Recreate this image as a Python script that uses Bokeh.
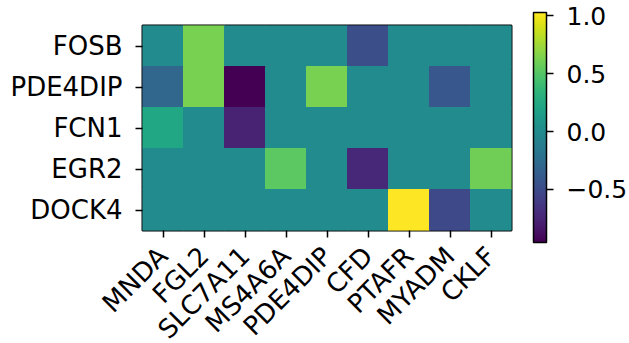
import numpy as np
from bokeh.plotting import figure
from bokeh.models import LinearColorMapper, ColorBar, FixedTicker, CustomJSTickFormatter, ColumnDataSource
from bokeh.palettes import Viridis256
from bokeh.transform import transform
from bokeh.embed import file_html
from bokeh.resources import INLINE

rows = ["FOSB", "PDE4DIP", "FCN1", "EGR2", "DOCK4"]
cols = ["MNDA", "FGL2", "SLC7A11", "MS4A6A", "PDE4DIP", "CFD", "PTAFR", "MYADM", "CKLF"]

fosb = [0.0, 0.63, 0.0, 0.0, 0.0, -0.48, 0.0, 0.0, 0.0]
pde4dip = [-0.30, 0.63, -0.96, 0.0, 0.63, 0.0, 0.0, -0.42, 0.0]
fcn1 = [0.23, 0.0, -0.76, 0.0, 0.0, 0.0, 0.0, 0.0, 0.0]
egr2 = [0.0, 0.0, 0.0, 0.53, 0.0, -0.74, 0.0, 0.0, 0.60]
dock4 = [0.0, 0.0, 0.0, 0.0, 0.0, 0.0, 1.03, -0.52, 0.0]

vmin, vmax = -0.96, 1.03
cbar_ticks = [-0.5, 0.0, 0.5, 1.0]

matrix = [fosb, pde4dip, fcn1, egr2, dock4]
xs, ys, vs = [], [], []
for r, rowvals in zip(rows, matrix):
    for c, v in zip(cols, rowvals):
        xs.append(c)
        ys.append(r)
        vs.append(v)
src = ColumnDataSource(dict(x=xs, y=ys, v=vs))

FONT = "DejaVu Sans"
FS = "26px"

mapper = LinearColorMapper(palette=Viridis256, low=vmin, high=vmax)

p = figure(x_range=cols, y_range=list(reversed(rows)),
           frame_width=369, frame_height=205,
           min_border_left=142, min_border_top=25, min_border_right=118, min_border_bottom=113,
           output_backend="svg", toolbar_location=None, tools="")
p.rect(x="x", y="y", width=1, height=1, source=src,
       fill_color=transform("v", mapper), line_color=transform("v", mapper), line_width=1)

p.x_range.range_padding = 0
p.y_range.range_padding = 0
p.grid.visible = False
p.outline_line_color = "black"
p.outline_line_width = 2
p.outline_line_alpha = 1
p.background_fill_color = "white"
p.border_fill_color = "white"

for ax in (p.xaxis[0], p.yaxis[0]):
    ax.axis_line_color = None
    ax.major_tick_line_color = "black"
    ax.major_tick_line_width = 1.5
    ax.major_tick_out = 7
    ax.major_tick_in = 0
    ax.minor_tick_line_color = None
    ax.major_label_text_font = FONT
    ax.major_label_text_font_size = FS
    ax.major_label_text_color = "black"

p.yaxis.major_label_standoff = 13
p.xaxis.major_label_standoff = 14
p.xaxis.major_label_orientation = np.pi / 4

cb = ColorBar(color_mapper=mapper, location=(391, -12), width=13, height=230,
              padding=0, margin=0,
              ticker=FixedTicker(ticks=cbar_ticks),
              formatter=CustomJSTickFormatter(code='return tick < 0 ? "\\u2212" + (-tick).toFixed(1) : tick.toFixed(1);'),
              major_tick_in=0, major_tick_out=7, major_tick_line_color="black", major_tick_line_width=1.5,
              minor_tick_line_color=None,
              bar_line_color="black", bar_line_width=1.5,
              label_standoff=13,
              major_label_text_font=FONT, major_label_text_font_size="25px",
              major_label_text_color="black",
              background_fill_alpha=0, border_line_color=None)
p.add_layout(cb, "center")

open("out.html", "w").write(file_html(p, INLINE))
